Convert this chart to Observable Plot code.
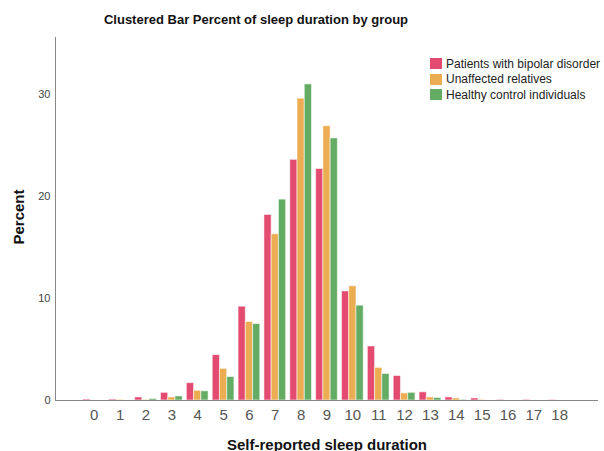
<!DOCTYPE html>
<html>
<head>
<meta charset="utf-8">
<script src="https://cdn.jsdelivr.net/npm/d3@7"></script>
<script src="https://cdn.jsdelivr.net/npm/@observablehq/plot@0.6"></script>
<style>
  html, body { margin: 0; padding: 0; background: #fff; }
  #wrap { position: relative; width: 604px; height: 451px; font-family: "Liberation Sans", Arial, sans-serif; overflow: hidden; }
  #wrap svg { position: absolute; left: 0; top: 0; }
  .title { position: absolute; left: 0; width: 512px; top: 13px; text-align: center; font-size: 13px; font-weight: bold; line-height: 14px; color: #111; white-space: nowrap; }
  .ylab { position: absolute; left: 18px; top: 217px; transform: translate(-50%, -50%) rotate(-90deg); font-size: 15px; font-weight: bold; line-height: 15px; color: #111; white-space: nowrap; }
  .xlab { position: absolute; left: 0; width: 654px; top: 437px; text-align: center; font-size: 15px; font-weight: bold; line-height: 15px; color: #111; white-space: nowrap; }
  .legend { position: absolute; left: 430px; top: 56px; font-size: 12px; color: #222; }
  .legend .row { display: flex; align-items: center; height: 15.5px; white-space: nowrap; }
  .legend .sw { width: 12px; height: 11px; margin-right: 4px; flex: none; }
  g[aria-label^="x-axis"] text { font-size: 15px; fill: #555; }
  g[aria-label^="y-axis"] text { font-size: 11px; fill: #444; }
</style>
</head>
<body>
<div id="wrap"></div>
<script>
const durations = [0, 1, 2, 3, 4, 5, 6, 7, 8, 9, 10, 11, 12, 13, 14, 15, 16, 17, 18];
const groups = ["Patients with bipolar disorder", "Unaffected relatives", "Healthy control individuals"];
const colors = ["#E34B70", "#ECAC52", "#64AC64"];
const bipolar   = [0.1, 0.1, 0.3, 0.75, 1.7, 4.45, 9.2, 18.2, 23.6, 22.7, 10.7, 5.3, 2.4, 0.8, 0.3, 0.2, 0.05, 0.05, 0.03];
const relatives = [0, 0.05, 0.05, 0.3, 0.95, 3.1, 7.7, 16.3, 29.6, 26.9, 11.2, 3.2, 0.7, 0.3, 0.2, 0.05, 0, 0, 0];
const controls  = [0, 0, 0.15, 0.4, 0.9, 2.3, 7.5, 19.7, 31.0, 25.7, 9.3, 2.6, 0.75, 0.25, 0.05, 0, 0, 0, 0];
const yTicks = [0, 10, 20, 30];
const titleText = "Clustered Bar Percent of sleep duration by group";
const xLabel = "Self-reported sleep duration";
const yLabel = "Percent";

const series = [bipolar, relatives, controls];
const clusterWidth = 0.84;
const barW = clusterWidth / groups.length;
const rows = [];
durations.forEach((d, i) => {
  groups.forEach((g, gi) => {
    const x1 = d - clusterWidth / 2 + gi * barW;
    rows.push({duration: d, group: g, value: series[gi][i], x1, x2: x1 + barW});
  });
});

const xDomain = [-1.5, 19.5];
const chart = Plot.plot({
  width: 604,
  height: 451,
  marginTop: 37,
  marginBottom: 51,
  marginLeft: 55,
  marginRight: 6,
  style: {fontFamily: "Liberation Sans, Arial, sans-serif", background: "transparent"},
  x: {domain: xDomain, ticks: durations, tickFormat: d => String(d), tickSize: 0, tickPadding: 9, label: null},
  y: {domain: [0, 35.6], ticks: yTicks, tickSize: 0, tickPadding: 5, label: null},
  color: {domain: groups, range: colors},
  marks: [
    Plot.rectY(rows, {x1: "x1", x2: "x2", y: "value", fill: "group", stroke: "white", strokeOpacity: 0.55, strokeWidth: 1}),
    Plot.ruleY([0], {stroke: "#888", strokeWidth: 1}),
    Plot.ruleX([xDomain[0]], {stroke: "#888", strokeWidth: 1})
  ]
});

const wrap = document.getElementById("wrap");
wrap.appendChild(chart);

const t = document.createElement("div"); t.className = "title"; t.textContent = titleText; wrap.appendChild(t);
const yl = document.createElement("div"); yl.className = "ylab"; yl.textContent = yLabel; wrap.appendChild(yl);
const xl = document.createElement("div"); xl.className = "xlab"; xl.textContent = xLabel; wrap.appendChild(xl);
const lg = document.createElement("div"); lg.className = "legend";
groups.forEach((g, i) => {
  const r = document.createElement("div"); r.className = "row";
  const s = document.createElement("span"); s.className = "sw"; s.style.background = colors[i];
  const l = document.createElement("span"); l.textContent = g;
  r.appendChild(s); r.appendChild(l); lg.appendChild(r);
});
wrap.appendChild(lg);
</script>
</body>
</html>
